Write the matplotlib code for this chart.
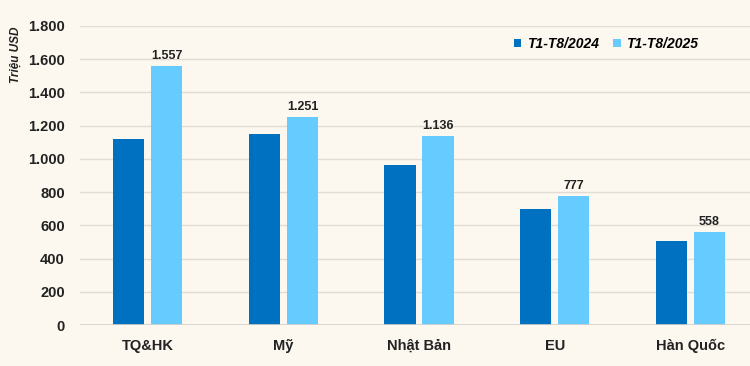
import matplotlib.pyplot as plt
import numpy as np

categories = ['TQ&HK', 'Mỹ', 'Nhật Bản', 'EU', 'Hàn Quốc']
values_2024 = [1120, 1150, 965, 698, 508]
values_2025 = [1557, 1251, 1136, 777, 558]
series_names = ['T1-T8/2024', 'T1-T8/2025']
yticks = [0, 200, 400, 600, 800, 1000, 1200, 1400, 1600, 1800]

bg = '#fdf8ef'
dark = '#0070c0'
light = '#66ccff'

plt.rcParams['font.family'] = ['Liberation Sans', 'DejaVu Sans']

fig = plt.figure(figsize=(7.5, 3.66), dpi=100, facecolor=bg)
ax = fig.add_axes([0.1067, 0.112, 0.8933, 0.817], facecolor=bg)

x = np.arange(len(categories))
w = 0.23
ax.bar(x - 0.14, values_2024, w, color=dark, label=series_names[0], zorder=3)
bars = ax.bar(x + 0.14, values_2025, w, color=light, label=series_names[1], zorder=3)

for b, v in zip(bars, values_2025):
    ax.text(b.get_x() + b.get_width() / 2, v + 25, f'{v:,}'.replace(',', '.'),
            ha='center', va='bottom', fontsize=9, fontweight='bold', color='#222222')

ax.set_xlim(-0.5, 4.44)
ax.set_ylim(0, 1800)
ax.set_yticks(yticks)
ax.set_yticklabels([f'{t:,}'.replace(',', '.') for t in yticks])
ax.set_xticks(x)
ax.set_xticklabels(categories)
ax.grid(axis='y', color='#e2ddd4', linewidth=1, zorder=0)
ax.axhline(0, color='#d6d1c8', linewidth=1.2, zorder=4)

for s in ax.spines.values():
    s.set_visible(False)
ax.tick_params(length=0)
ax.tick_params(axis='y', pad=11, labelsize=10.5)
ax.tick_params(axis='x', pad=10, labelsize=10.5)
for lab in ax.get_xticklabels() + ax.get_yticklabels():
    lab.set_fontweight('bold')
    lab.set_color('#222222')

fig.text(0.021, 0.85, 'Triệu USD', rotation=90, ha='center', va='center',
         fontsize=8.5, fontweight='bold', style='italic', color='#222222')

leg = ax.legend(loc='center', bbox_to_anchor=(0.785, 0.94), ncol=2, frameon=False,
                handlelength=0.55, handleheight=0.55, handletextpad=0.4, columnspacing=1.0,
                prop={'weight': 'bold', 'style': 'italic', 'size': 10})

fig.savefig('out.png', facecolor=bg)
